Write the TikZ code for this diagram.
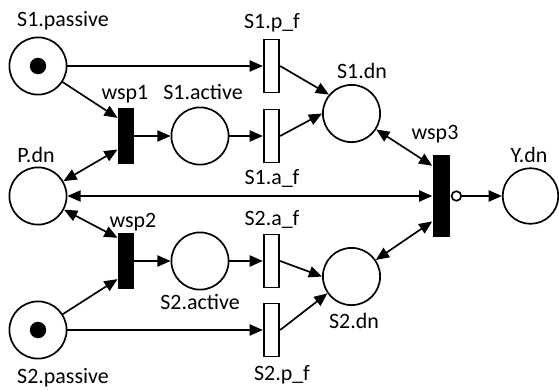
\documentclass[tikz,border=0pt]{standalone}
\usepackage{fontspec}
\setmainfont{Carlito}
\usetikzlibrary{arrows.meta,positioning}
\tikzset{
  place/.style={circle,draw,minimum size=1.43cm,inner sep=0pt},
  token/.style={circle,fill,minimum size=0.41cm,inner sep=0pt},
  trans/.style={rectangle,draw,fill=white,minimum width=0.39cm,minimum height=1.33cm,inner sep=0pt},
  bar/.style={rectangle,fill,minimum width=0.38cm,minimum height=1.4cm,inner sep=0pt},
  neg/.style={circle,draw,fill=white,minimum size=0.24cm,inner sep=0pt},
  lbl/.style={anchor=base,font=\fontsize{15.6}{18}\selectfont}
}
\begin{document}
\begin{tikzpicture}[x=0.025cm,y=-0.025cm,line width=1.2pt,>={Triangle[length=0.33cm,width=0.28cm]}]
\useasboundingbox (0,0) rectangle (559,391);
\node[place] (S1p) at (38,66) {};
\node[token] (S1pk) at (S1p) {};
\node[place] (Pdn) at (38,196) {};
\node[place] (S2p) at (38,330) {};
\node[token] (S2pk) at (S2p) {};
\node[bar] (wsp1) at (126,136) {};
\node[bar] (wsp2) at (126,261) {};
\node[place] (S1a) at (200,136) {};
\node[place] (S2a) at (200,261) {};
\node[trans] (S1pf) at (271.5,66) {};
\node[trans] (S1af) at (271.5,136) {};
\node[trans] (S2af) at (271.5,261) {};
\node[trans] (S2pf) at (271.5,330) {};
\node[place] (S1dn) at (351.5,113.5) {};
\node[place] (S2dn) at (351.5,276.5) {};
\node[bar,minimum height=2.05cm,minimum width=0.42cm] (wsp3) at (441.5,196) {};
\node[neg,right=0pt of wsp3] (wsp3n) {};
\node[place,minimum size=1.39cm] (Ydn) at (530.5,196) {};
\draw[->] (S1p) -- (S1pf);
\draw[->] (S1p) -- (wsp1.115);
\draw[->] (wsp1) -- (S1a);
\draw[->] (S1a) -- (S1af);
\draw[<->] (Pdn) -- (wsp1.238);
\draw[->] (S1pf.east) -- (S1dn.140);
\draw[->] (S1af.east) -- (S1dn.west);
\draw[<->] (S1dn) -- (wsp3.107);
\draw[<->] (Pdn) -- (wsp3);
\draw[->] (wsp3n) -- (Ydn);
\draw[<->] (Pdn) -- (wsp2.110);
\draw[->] (S2p) -- (wsp2.245);
\draw[->] (wsp2) -- (S2a);
\draw[->] (S2a) -- (S2af);
\draw[->] (S2p) -- (S2pf);
\draw[->] (S2af.east) -- (S2dn.west);
\draw[->] (S2pf.east) -- (S2dn.215);
\draw[<->] (S2dn) -- (wsp3.250);
\node[lbl] (S1pl) at (63,26) {S1.passive};
\node[lbl] (wsp1l) at (125,99) {wsp1};
\node[lbl] (S1al) at (203,99) {S1.active};
\node[lbl] (Pdnl) at (36,162) {P.dn};
\node[lbl] (S1pfl) at (272,28) {S1.p\_f};
\node[lbl] (S1afl) at (272,184) {S1.a\_f};
\node[lbl] (S1dnl) at (362,78) {S1.dn};
\node[lbl] (wsp3l) at (435,139) {wsp3};
\node[lbl] (Ydnl) at (529,162) {Y.dn};
\node[lbl] (wsp2l) at (133,227) {wsp2};
\node[lbl] (S2afl) at (272,225) {S2.a\_f};
\node[lbl] (S2al) at (200,309) {S2.active};
\node[lbl] (S2dnl) at (354,328) {S2.dn};
\node[lbl] (S2pl) at (63,383) {S2.passive};
\node[lbl] (S2pfl) at (282,380) {S2.p\_f};
\end{tikzpicture}
\end{document}
